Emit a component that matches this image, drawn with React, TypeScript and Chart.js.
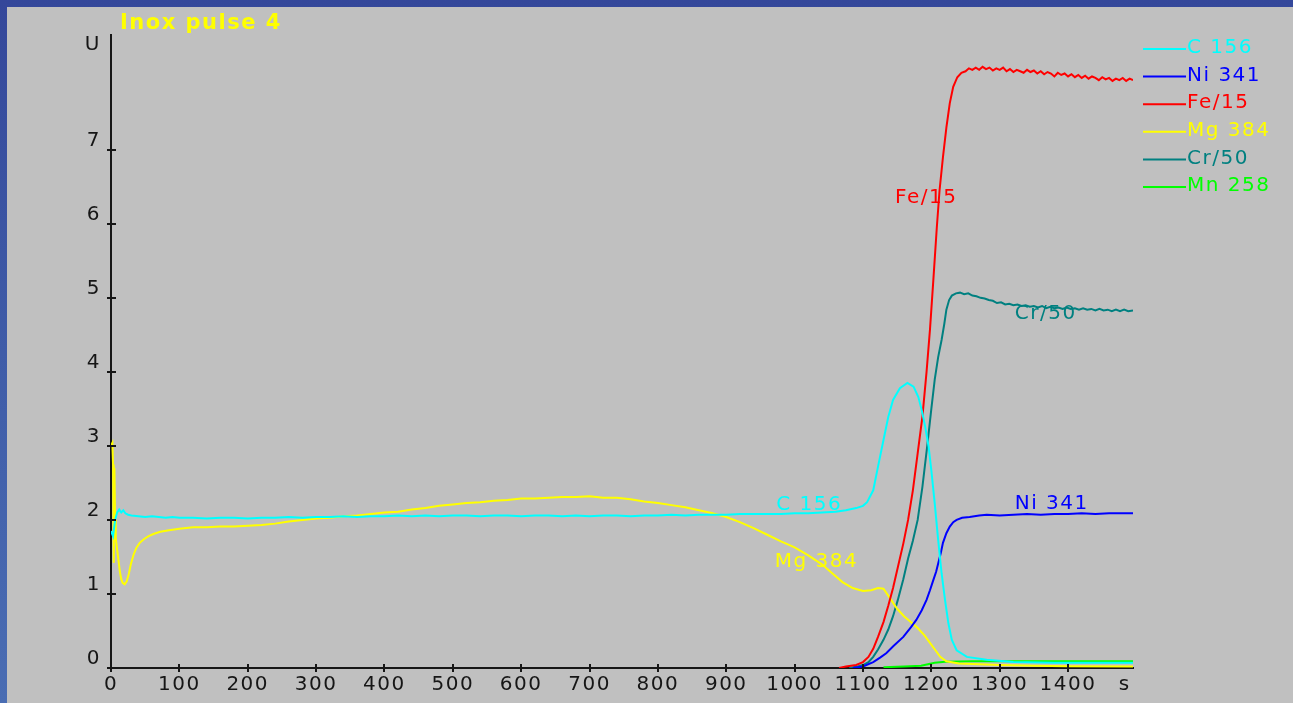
import React, { useEffect, useRef } from "react";
import { Chart, registerables } from "chart.js";

Chart.register(...registerables);

type Pt = [number, number];

// Axis ticks (time in s, signal in U)
const xTickValues = [0, 100, 200, 300, 400, 500, 600, 700, 800, 900, 1000, 1100, 1200, 1300, 1400];
const xUnit = { value: 1483, label: "s" };
const yTickValues = [0, 1, 2, 3, 4, 5, 6, 7];
const yUnit = { value: 8.3, label: "U" };

const chartTitle = "Inox pulse 4";

// Series: [time s, signal U]
const c156: Pt[] = [
  [0, 1.85], [3, 1.78], [6, 2.0], [9, 2.1], [12, 2.14], [15, 2.1], [18, 2.13], [21, 2.09],
  [25, 2.07], [30, 2.06], [40, 2.05], [50, 2.04], [60, 2.05], [70, 2.04], [80, 2.03], [90, 2.04],
  [100, 2.03], [120, 2.03], [140, 2.02], [160, 2.03], [180, 2.03], [200, 2.02], [220, 2.03],
  [240, 2.03], [260, 2.04], [280, 2.03], [300, 2.04], [320, 2.04], [340, 2.05], [360, 2.04],
  [380, 2.05], [400, 2.05], [420, 2.06], [440, 2.05], [460, 2.06], [480, 2.05], [500, 2.06],
  [520, 2.06], [540, 2.05], [560, 2.06], [580, 2.06], [600, 2.05], [620, 2.06], [640, 2.06],
  [660, 2.05], [680, 2.06], [700, 2.05], [720, 2.06], [740, 2.06], [760, 2.05], [780, 2.06],
  [800, 2.06], [820, 2.07], [840, 2.06], [860, 2.07], [880, 2.07], [900, 2.07], [920, 2.08],
  [940, 2.08], [960, 2.08], [980, 2.08], [1000, 2.09], [1020, 2.09], [1040, 2.1], [1060, 2.11],
  [1075, 2.13], [1090, 2.16], [1100, 2.19], [1106, 2.24], [1115, 2.4], [1122, 2.72], [1130, 3.08],
  [1137, 3.39], [1144, 3.62], [1154, 3.78], [1165, 3.85], [1174, 3.8], [1181, 3.66], [1186, 3.48],
  [1191, 3.26], [1196, 2.99], [1200, 2.67], [1205, 2.22], [1210, 1.73], [1215, 1.28], [1220, 0.92],
  [1225, 0.6], [1230, 0.38], [1237, 0.24], [1252, 0.15], [1281, 0.11], [1320, 0.08], [1380, 0.07],
  [1440, 0.07], [1495, 0.07],
];

const ni341: Pt[] = [
  [1085, 0.0], [1100, 0.02], [1115, 0.08], [1125, 0.14], [1134, 0.2], [1145, 0.3], [1159, 0.42],
  [1170, 0.55], [1178, 0.65], [1186, 0.78], [1193, 0.92], [1198, 1.05], [1203, 1.19], [1207, 1.3],
  [1210, 1.41], [1214, 1.56], [1217, 1.69], [1222, 1.82], [1227, 1.91], [1232, 1.97], [1237, 2.0],
  [1245, 2.03], [1256, 2.04], [1270, 2.06], [1281, 2.07], [1300, 2.06], [1320, 2.07], [1340, 2.08],
  [1360, 2.07], [1380, 2.08], [1400, 2.08], [1420, 2.09], [1440, 2.08], [1460, 2.09], [1480, 2.09],
  [1495, 2.09],
];

const fe15: Pt[] = [
  [1065, 0.0], [1075, 0.02], [1090, 0.04], [1100, 0.08], [1108, 0.15], [1115, 0.26], [1122, 0.42],
  [1130, 0.62], [1137, 0.84], [1144, 1.08], [1151, 1.36], [1159, 1.68], [1166, 2.0], [1173, 2.4],
  [1180, 2.9], [1187, 3.4], [1193, 4.0], [1198, 4.57], [1203, 5.25], [1208, 5.95], [1212, 6.45],
  [1217, 6.9], [1222, 7.3], [1227, 7.63], [1232, 7.85], [1238, 7.98], [1244, 8.04], [1250, 8.06],
  [1255, 8.1], [1260, 8.08], [1265, 8.11], [1270, 8.08], [1275, 8.12], [1280, 8.09], [1285, 8.11],
  [1290, 8.07], [1295, 8.1], [1300, 8.08], [1305, 8.11], [1310, 8.06], [1315, 8.09], [1320, 8.05],
  [1325, 8.08], [1330, 8.06], [1335, 8.04], [1340, 8.08], [1345, 8.05], [1350, 8.07], [1355, 8.03],
  [1360, 8.06], [1365, 8.02], [1370, 8.05], [1375, 8.03], [1380, 7.99], [1385, 8.04], [1390, 8.01],
  [1395, 8.03], [1400, 7.99], [1405, 8.02], [1410, 7.98], [1415, 8.01], [1420, 7.97], [1425, 8.0],
  [1430, 7.96], [1435, 7.99], [1440, 7.97], [1445, 7.94], [1450, 7.98], [1455, 7.95], [1460, 7.97],
  [1465, 7.93], [1470, 7.96], [1475, 7.94], [1480, 7.97], [1485, 7.93], [1490, 7.96], [1495, 7.94],
];

const mg384: Pt[] = [
  [0, 3.0], [2, 3.04], [3, 2.75], [4, 1.42], [5, 2.7], [6, 2.0], [7, 1.75], [9, 1.6], [11, 1.45],
  [13, 1.3], [15, 1.2], [17, 1.15], [20, 1.13], [23, 1.17], [26, 1.27], [29, 1.4], [33, 1.53],
  [37, 1.62], [42, 1.69], [48, 1.74], [55, 1.78], [62, 1.81], [72, 1.84], [85, 1.86], [100, 1.88],
  [120, 1.9], [140, 1.9], [160, 1.91], [180, 1.91], [200, 1.92], [220, 1.93], [240, 1.95],
  [260, 1.98], [280, 2.0], [300, 2.02], [320, 2.03], [340, 2.05], [360, 2.06], [380, 2.08],
  [400, 2.1], [420, 2.11], [440, 2.14], [460, 2.16], [480, 2.19], [500, 2.21], [520, 2.23],
  [540, 2.24], [560, 2.26], [580, 2.27], [600, 2.29], [620, 2.29], [640, 2.3], [660, 2.31],
  [680, 2.31], [700, 2.32], [720, 2.3], [740, 2.3], [760, 2.28], [780, 2.25], [800, 2.23],
  [820, 2.2], [840, 2.17], [860, 2.13], [880, 2.09], [900, 2.04], [920, 1.97], [940, 1.89],
  [960, 1.8], [980, 1.71], [1000, 1.63], [1020, 1.52], [1040, 1.4], [1055, 1.28], [1070, 1.16],
  [1085, 1.08], [1100, 1.04], [1112, 1.05], [1122, 1.08], [1130, 1.07], [1139, 0.95], [1150, 0.8],
  [1160, 0.7], [1170, 0.62], [1180, 0.54], [1190, 0.44], [1198, 0.34], [1206, 0.24], [1213, 0.15],
  [1222, 0.09], [1240, 0.06], [1270, 0.05], [1300, 0.04], [1350, 0.03], [1400, 0.025], [1495, 0.02],
];

const cr50: Pt[] = [
  [1080, 0.0], [1092, 0.02], [1100, 0.04], [1108, 0.08], [1115, 0.15], [1122, 0.25], [1130, 0.38],
  [1137, 0.52], [1144, 0.7], [1151, 0.92], [1159, 1.2], [1166, 1.48], [1173, 1.72], [1180, 2.0],
  [1187, 2.45], [1194, 3.0], [1200, 3.5], [1205, 3.9], [1210, 4.2], [1215, 4.43], [1219, 4.65],
  [1222, 4.84], [1226, 4.97], [1230, 5.03], [1236, 5.06], [1242, 5.07], [1248, 5.05], [1254, 5.06],
  [1260, 5.03], [1266, 5.02], [1272, 5.0], [1278, 4.99], [1284, 4.97], [1290, 4.96], [1296, 4.93],
  [1302, 4.94], [1308, 4.91], [1314, 4.92], [1320, 4.9], [1326, 4.91], [1332, 4.89], [1338, 4.9],
  [1344, 4.88], [1350, 4.89], [1356, 4.87], [1362, 4.89], [1368, 4.86], [1374, 4.88], [1380, 4.86],
  [1386, 4.87], [1392, 4.85], [1398, 4.87], [1404, 4.85], [1410, 4.86], [1416, 4.84], [1422, 4.86],
  [1428, 4.84], [1434, 4.85], [1440, 4.83], [1446, 4.85], [1452, 4.83], [1458, 4.84], [1464, 4.82],
  [1470, 4.84], [1476, 4.82], [1482, 4.84], [1488, 4.82], [1495, 4.83],
];

const mn258: Pt[] = [
  [1130, 0.01], [1160, 0.02], [1185, 0.03], [1195, 0.05], [1205, 0.07], [1220, 0.085],
  [1260, 0.09], [1350, 0.09], [1495, 0.09],
];

const seriesNames = ["C 156", "Ni 341", "Fe/15", "Mg 384", "Cr/50", "Mn 258"];
const seriesData = [c156, ni341, fe15, mg384, cr50, mn258];
const seriesColors = ["#00ffff", "#0000ff", "#ff0000", "#ffff00", "#008080", "#00ff00"];

// In-plot curve names, anchored in data units (left edge, vertical centre)
const curveLabels = [
  { text: "Fe/15", t: 1147, u: 6.35, series: 2 },
  { text: "Cr/50", t: 1322, u: 4.78, series: 4 },
  { text: "Ni 341", t: 1322, u: 2.215, series: 1 },
  { text: "C 156", t: 973, u: 2.2, series: 0 },
  { text: "Mg 384", t: 971, u: 1.43, series: 3 },
];

const FONT = "DejaVu Sans";
const INK = "#161616";

const decorPlugin = {
  id: "decor",
  beforeDraw(chart: any) {
    chart.ctx.letterSpacing = "1.5px";
  },
  beforeDatasetsDraw(chart: any) {
    const { ctx, scales } = chart;
    ctx.save();
    ctx.font = `20px "${FONT}"`;
    ctx.letterSpacing = "1.5px";
    ctx.textAlign = "left";
    ctx.textBaseline = "middle";
    curveLabels.forEach((l) => {
      ctx.fillStyle = seriesColors[l.series];
      ctx.fillText(l.text, scales.x.getPixelForValue(l.t), scales.y.getPixelForValue(l.u));
    });
    ctx.restore();
  },
  afterDraw(chart: any) {
    const { ctx, scales, chartArea } = chart;
    ctx.save();
    // tick marks crossing the axes
    ctx.strokeStyle = INK;
    ctx.lineWidth = 2;
    xTickValues.forEach((v) => {
      const px = Math.round(scales.x.getPixelForValue(v));
      ctx.beginPath();
      ctx.moveTo(px, chartArea.bottom - 4);
      ctx.lineTo(px, chartArea.bottom + 4);
      ctx.stroke();
    });
    yTickValues.forEach((v) => {
      const py = Math.round(scales.y.getPixelForValue(v));
      ctx.beginPath();
      ctx.moveTo(chartArea.left - 4, py);
      ctx.lineTo(chartArea.left + 5, py);
      ctx.stroke();
    });

    // title
    ctx.font = `bold 21px "${FONT}"`;
    ctx.letterSpacing = "1.5px";
    ctx.fillStyle = "#ffff00";
    ctx.textAlign = "left";
    ctx.textBaseline = "alphabetic";
    ctx.fillText(chartTitle, 120, 29);

    // legend
    ctx.font = `20px "${FONT}"`;
    ctx.letterSpacing = "1.5px";
    ctx.textBaseline = "middle";
    ctx.lineWidth = 2;
    seriesNames.forEach((name, i) => {
      const y = 49 + i * 27.6;
      ctx.strokeStyle = seriesColors[i];
      ctx.beginPath();
      ctx.moveTo(1143, y);
      ctx.lineTo(1186, y);
      ctx.stroke();
      ctx.fillStyle = seriesColors[i];
      ctx.fillText(name, 1187, y - 1);
    });
    ctx.restore();
  },
};

export default function App() {
  const canvasRef = useRef<HTMLCanvasElement | null>(null);

  useEffect(() => {
    document.body.style.margin = "0";
    document.body.style.overflow = "hidden";
    const canvas = canvasRef.current;
    if (!canvas) return;

    const chart = new Chart(canvas, {
      type: "line",
      data: {
        datasets: seriesData.map((pts, i) => ({
          label: seriesNames[i],
          data: pts.map(([t, u]) => ({ x: t, y: u })),
          borderColor: seriesColors[i],
          backgroundColor: seriesColors[i],
          borderWidth: 2,
          pointRadius: 0,
          tension: 0,
          fill: false,
        })),
      },
      options: {
        responsive: false,
        animation: false,
        events: [],
        layout: { padding: { top: 35, right: 160, bottom: 0, left: 0 } },
        plugins: {
          legend: { display: false },
          tooltip: { enabled: false },
          title: { display: false },
        },
        scales: {
          x: {
            type: "linear",
            min: 0,
            max: 1495,
            afterBuildTicks: (s: any) => {
              s.ticks = [...xTickValues.map((v) => ({ value: v })), { value: xUnit.value }];
            },
            afterFit: (s: any) => {
              s.height = 35;
            },
            grid: { display: false, drawTicks: false },
            border: { display: true, color: INK, width: 2 },
            ticks: {
              autoSkip: false,
              maxRotation: 0,
              minRotation: 0,
              padding: 5,
              color: INK,
              font: { family: FONT, size: 20 },
              callback: (_v: any, i: number) => (i < xTickValues.length ? String(xTickValues[i]) : xUnit.label),
            },
          },
          y: {
            type: "linear",
            min: 0,
            max: 8.55,
            afterBuildTicks: (s: any) => {
              s.ticks = [...yTickValues.map((v) => ({ value: v })), { value: yUnit.value }];
            },
            afterFit: (s: any) => {
              s.width = 111;
            },
            grid: { display: false, drawTicks: false },
            border: { display: true, color: INK, width: 2 },
            ticks: {
              autoSkip: false,
              padding: 10,
              labelOffset: -9,
              color: INK,
              font: { family: FONT, size: 20 },
              callback: (_v: any, i: number) => (i < yTickValues.length ? String(yTickValues[i]) : yUnit.label),
            },
          },
        },
      },
      plugins: [decorPlugin],
    });

    return () => chart.destroy();
  }, []);

  return (
    <div
      style={{
        position: "fixed",
        left: 0,
        top: 0,
        width: 1293,
        height: 703,
        background: "linear-gradient(180deg, #34479a 0%, #3f5ca8 50%, #4a6db3 100%)",
        overflow: "hidden",
      }}
    >
      <div
        style={{
          position: "absolute",
          left: 7,
          top: 7,
          right: 0,
          bottom: 0,
          background: "#c0c0c0",
        }}
      />
      <canvas
        ref={canvasRef}
        width={1293}
        height={703}
        style={{ position: "absolute", left: 0, top: 0, width: 1293, height: 703 }}
      />
    </div>
  );
}
